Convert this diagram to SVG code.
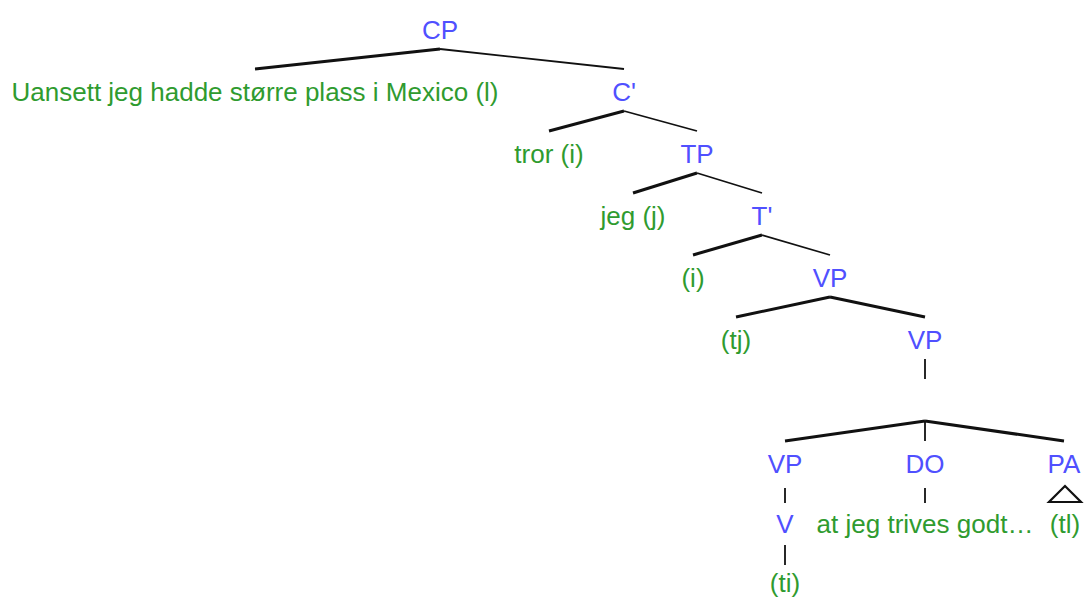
<svg xmlns="http://www.w3.org/2000/svg" width="1085" height="604" viewBox="0 0 1085 604">
<style>
text{font-family:"Liberation Sans",Arial,sans-serif;font-size:26px;text-anchor:middle}
.c{fill:#5050ff}
.w{fill:#2f9b2f}
.l{stroke:#111;stroke-width:3;fill:none}
.r{stroke:#111;stroke-width:1.8;fill:none}
</style>
<rect width="1085" height="604" fill="#fff"/>
<g id="connectors">
<line class="l" x1="440" y1="49" x2="255" y2="69"/>
<line class="r" x1="440" y1="49" x2="624" y2="69"/>
<line class="l" x1="624" y1="111" x2="549" y2="131"/>
<line class="r" x1="624" y1="111" x2="697" y2="131"/>
<line class="l" x1="697" y1="173" x2="633" y2="193"/>
<line class="r" x1="697" y1="173" x2="762" y2="193"/>
<line class="l" x1="762" y1="235" x2="693" y2="255"/>
<line class="r" x1="762" y1="235" x2="830" y2="255"/>
<line class="l" x1="830" y1="297" x2="736" y2="317"/>
<line class="l" x1="830" y1="297" x2="925" y2="317"/>
<line class="r" x1="925" y1="359" x2="925" y2="379"/>
<line class="l" x1="925" y1="421" x2="785" y2="441"/>
<line class="r" x1="925" y1="421" x2="925" y2="441"/>
<line class="l" x1="925" y1="421" x2="1064" y2="441"/>
<line class="r" x1="785" y1="488" x2="785" y2="503"/>
<line class="r" x1="925" y1="488" x2="925" y2="503"/>
<line class="r" x1="785" y1="545" x2="785" y2="565"/>
<polygon points="1065,486 1049,502 1081,502" fill="none" stroke="#111" stroke-width="2.2"/>
</g>
<g id="n-cp"><text class="c" x="440" y="39">CP</text></g>
<g id="n-uansett"><text class="w" x="255" y="101">Uansett jeg hadde større plass i Mexico (l)</text></g>
<g id="n-cbar"><text class="c" x="624" y="101">C'</text></g>
<g id="n-tror"><text class="w" x="549" y="163">tror (i)</text></g>
<g id="n-tp"><text class="c" x="697" y="163">TP</text></g>
<g id="n-jeg"><text class="w" x="633" y="225">jeg (j)</text></g>
<g id="n-tbar"><text class="c" x="762" y="225">T'</text></g>
<g id="n-i"><text class="w" x="693" y="287">(i)</text></g>
<g id="n-vp1"><text class="c" x="830" y="287">VP</text></g>
<g id="n-tj"><text class="w" x="736" y="349">(tj)</text></g>
<g id="n-vp2"><text class="c" x="925" y="349">VP</text></g>
<g id="n-vp3"><text class="c" x="785" y="473">VP</text></g>
<g id="n-do"><text class="c" x="925" y="473">DO</text></g>
<g id="n-pa"><text class="c" x="1064" y="473">PA</text></g>
<g id="n-v"><text class="c" x="785" y="533">V</text></g>
<g id="n-at"><text class="w" x="925" y="533">at jeg trives godt…</text></g>
<g id="n-tl"><text class="w" x="1065" y="533">(tl)</text></g>
<g id="n-ti"><text class="w" x="785" y="592">(ti)</text></g>
</svg>
